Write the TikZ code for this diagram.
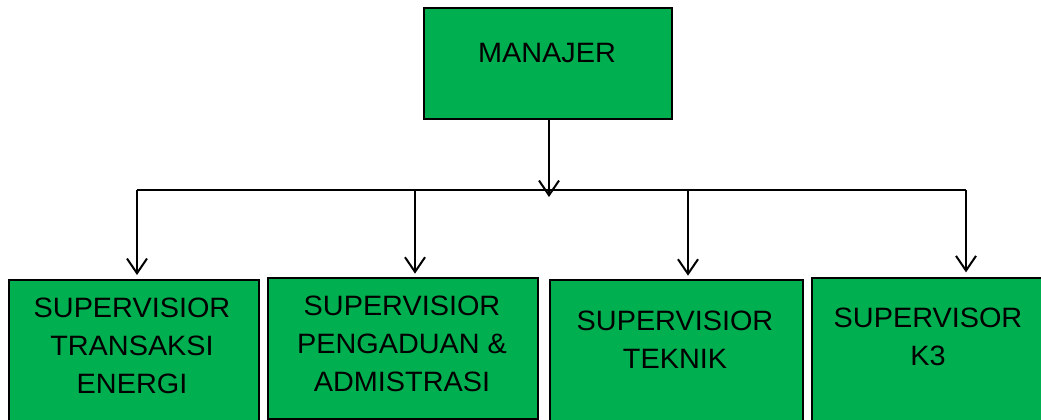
\documentclass[tikz,border=0pt]{standalone}
\usepackage{fontspec}
\setmainfont{Liberation Sans}[FakeStretch=1.03]
\usetikzlibrary{arrows.meta}
\definecolor{hijau}{RGB}{0,176,80}
\def\px{0.75pt}
\tikzset{
  kotak/.style={draw=black,line width=1.5pt,fill=hijau,inner sep=0pt,anchor=north west},
  teks/.style={font=\fontsize{21}{28.3}\selectfont,align=center,inner sep=0pt,anchor=north},
  panah/.style={-{Straight Barb[length=11pt,width=15pt]},line width=1.5pt},
}
\begin{document}
\begin{tikzpicture}[x=0.75pt,y=-0.75pt]
\useasboundingbox (0,0) rectangle (1041,419);
\clip (0,0) rectangle (1041,419);
% kotak-kotak
\node[kotak,minimum width=248*\px,minimum height=111*\px] (m) at (423,7) {};
\node[kotak,minimum width=250*\px,minimum height=170*\px] (b1) at (8,279) {};
\node[kotak,minimum width=270*\px,minimum height=141*\px] (b2) at (267,277) {};
\node[kotak,minimum width=253*\px,minimum height=170*\px] (b3) at (549,279) {};
\node[kotak,minimum width=235*\px,minimum height=170*\px] (b4) at (811,277) {};
% tulisan
\node[teks] (t0) at (547,42.5) {MANAJER};
\node[teks] (t1) at (132,298) {SUPERVISIOR\\TRANSAKSI\\ENERGI};
\node[teks] (t2) at (402,296) {SUPERVISIOR\\PENGADUAN \&\\ADMISTRASI};
\node[teks] (t3) at (675,310.5) {SUPERVISIOR\\TEKNIK};
\node[teks] (t4) at (928,308) {SUPERVISOR\\K3};
% garis
\coordinate (c0) at (549,197);
\coordinate (c1) at (137,190);
\coordinate (c2) at (415,190);
\coordinate (c3) at (688,190);
\coordinate (c4) at (966,190);
\draw[line width=0.8pt] (c1) -- (c4);
\draw[panah] (m.south -| c0) -- (c0);
\draw[panah,shorten >=3pt] (c1) -- (c1 |- b1.north);
\draw[panah,shorten >=2.5pt] (c2) -- (c2 |- b2.north);
\draw[panah,shorten >=2.5pt] (c3) -- (c3 |- b3.north);
\draw[panah,shorten >=3.5pt] (c4) -- (c4 |- b4.north);
\end{tikzpicture}
\end{document}
